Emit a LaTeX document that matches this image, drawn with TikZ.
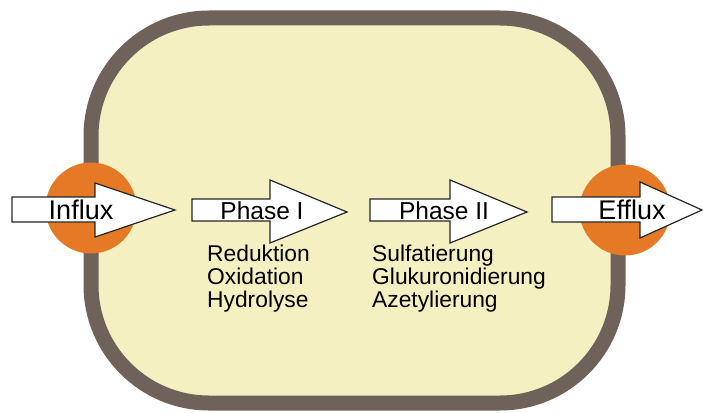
\documentclass[tikz,border=0pt]{standalone}
\usepackage{fontspec}
\setmainfont{Liberation Sans}
\usepackage{tikz}
\usepackage{xcolor}
\usetikzlibrary{positioning,calc}
\definecolor{cellWall}{RGB}{111,98,91}
\definecolor{cellPlasma}{RGB}{244,240,194}
\definecolor{poreOrange}{RGB}{229,121,38}

\begin{document}
\begin{tikzpicture}[
            x=1pt, y=-1pt,
            wall/.style={draw=cellWall, line width=15pt, fill=cellPlasma, rounded corners=118pt},
            pore/.style={circle, fill=poreOrange, minimum size=91pt, inner sep=0pt},
            bigarrow/.style={draw=black!85, line width=1.2pt, fill=white, line join=miter},
            label/.style={font=\fontsize{27}{29}\selectfont, inner sep=0pt},
            phase/.style={font=\fontsize{24.5}{26}\selectfont, inner sep=0pt},
            steps/.style={font=\fontsize{22.8}{22.8}\selectfont, align=left, inner sep=0pt, anchor=north west}
        ]
            \useasboundingbox (0,0) rectangle (703,412);

            % cell
            \draw[wall] (91,18) rectangle (618,403);

            % transporters
            \node[pore] (poreIn) at (91,208) {};
            \node[pore] (poreOut) at (625,210) {};

            % arrows
            \draw[bigarrow] (12,197) -- (95,197) -- (95,183) -- (175,210) -- (95,237) -- (95,222) -- (12,222) -- cycle;
            \draw[bigarrow] (192,199) -- (270,199) -- (270,180) -- (347,212) -- (270,243) -- (270,221) -- (192,221) -- cycle;
            \draw[bigarrow] (370,199) -- (450,199) -- (450,180) -- (527,212) -- (450,243) -- (450,221) -- (370,221) -- cycle;
            \draw[bigarrow] (552,197) -- (640,197) -- (640,182) -- (702,210) -- (640,238) -- (640,222) -- (552,222) -- cycle;

            \node[label] (influx) at (81,210) {Influx};
            \node[phase] (phaseI) at (262,211) {Phase I};
            \node[phase] (phaseII) at (444,211) {Phase II};
            \node[label] (efflux) at (632,210) {Efflux};

            % reactions
            \node[steps] (stepsI) at (207,245) {Reduktion\\Oxidation\\Hydrolyse};
            \node[steps] (stepsII) at (372,245) {Sulfatierung\\Glukuronidierung\\Azetylierung};
\end{tikzpicture}
\end{document}
